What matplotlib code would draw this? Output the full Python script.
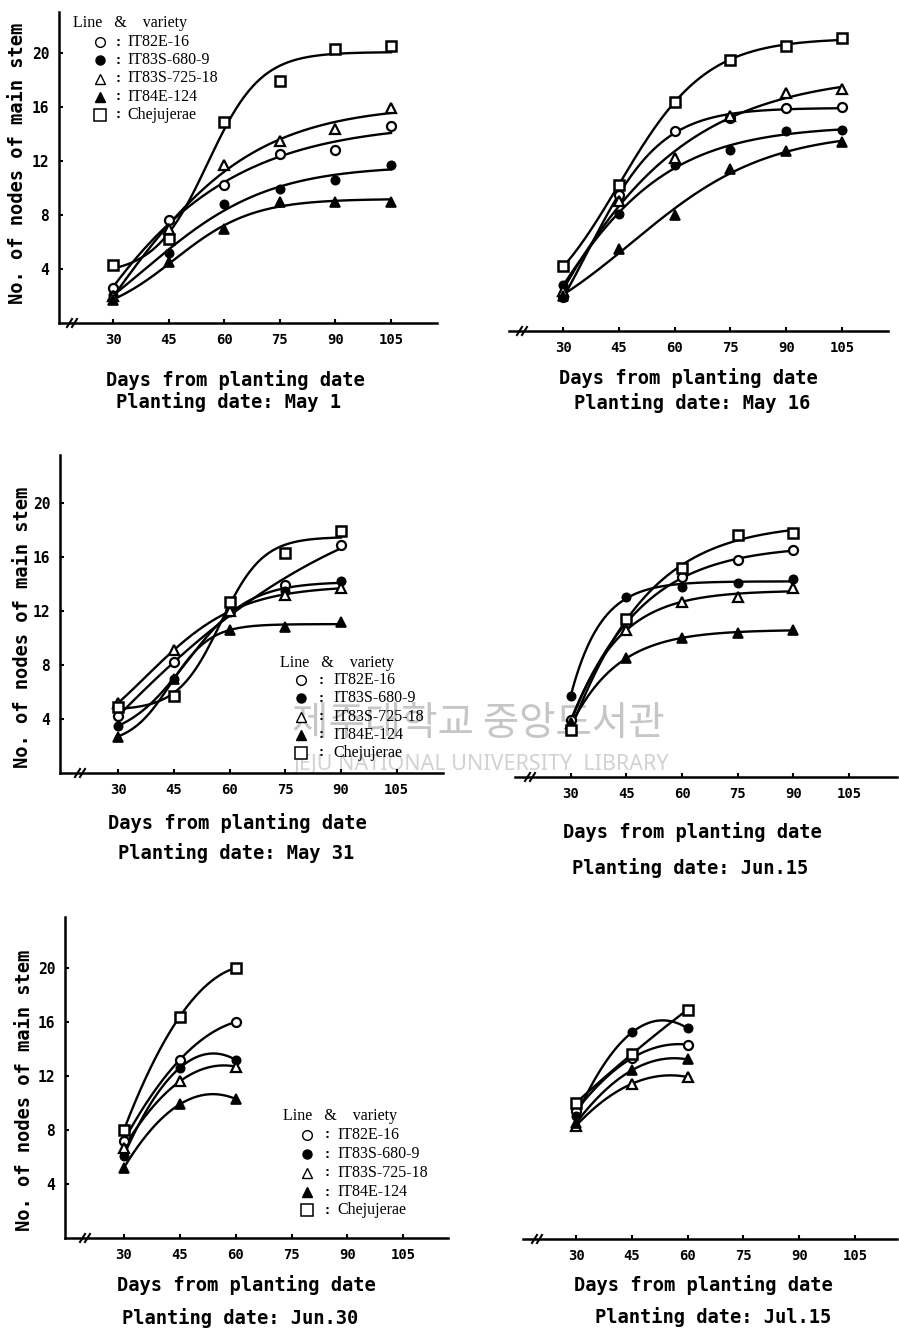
import numpy as np
import matplotlib.pyplot as plt
from matplotlib.lines import Line2D

W, H = 899, 1341

plt.rcParams['font.family'] = 'DejaVu Sans Mono'
plt.rcParams['font.weight'] = 'bold'

varieties = ['IT82E-16', 'IT83S-680-9', 'IT83S-725-18', 'IT84E-124', 'Chejujerae']

days6 = [30, 45, 60, 75, 90, 105]
days5 = [30, 45, 60, 75, 90]
days3 = [30, 45, 60]
day_ticks = [30, 45, 60, 75, 90, 105]
node_ticks = [4, 8, 12, 16, 20]

# No. of nodes of main stem, rows in the order of `varieties`
may1 = [[2.6, 7.6, 10.2, 12.5, 12.8, 14.6],
        [2.1, 5.2, 8.8, 9.9, 10.6, 11.7],
        [2.0, 7.0, 11.7, 13.5, 14.4, 15.9],
        [1.7, 4.5, 7.0, 9.0, 9.0, 9.0],
        [4.3, 6.2, 14.9, 17.9, 20.3, 20.5]]
may16 = [[2.5, 10.1, 14.8, 15.8, 16.5, 16.6],
         [3.4, 8.7, 12.3, 13.4, 14.8, 14.9],
         [3.0, 9.6, 12.8, 15.9, 17.6, 17.9],
         [2.6, 6.1, 8.6, 12.0, 13.3, 14.0],
         [4.8, 10.8, 17.0, 20.1, 21.1, 21.7]]
may31 = [[4.2, 8.2, 12.0, 13.9, 16.9],
         [3.5, 7.0, 11.9, 13.5, 14.2],
         [5.2, 9.1, 12.0, 13.2, 13.7],
         [2.7, 7.0, 10.6, 10.8, 11.2],
         [4.9, 5.7, 12.7, 16.3, 17.9]]
jun15 = [[4.2, 11.4, 14.8, 16.1, 16.8],
         [6.0, 13.3, 14.1, 14.4, 14.7],
         [4.0, 10.9, 13.0, 13.3, 14.0],
         [3.8, 8.8, 10.3, 10.7, 10.9],
         [3.5, 11.7, 15.5, 17.9, 18.1]]
jun30 = [[7.2, 13.2, 16.0],
         [6.1, 12.6, 13.2],
         [6.7, 11.6, 12.7],
         [5.2, 9.9, 10.3],
         [8.0, 16.4, 20.0]]
jul15 = [[9.5, 13.4, 14.4],
         [9.1, 15.3, 15.6],
         [8.4, 11.5, 12.0],
         [8.6, 12.5, 13.3],
         [10.1, 13.7, 17.0]]

styles = [dict(marker='o', mfc='white', mec='black', ms=6.5, mew=1.6),
          dict(marker='o', mfc='black', mec='black', ms=6, mew=1.2),
          dict(marker='^', mfc='white', mec='black', ms=7, mew=1.6),
          dict(marker='^', mfc='black', mec='black', ms=7, mew=1.2),
          dict(marker='s', mfc='white', mec='black', ms=6.5, mew=1.8)]
key_styles = [dict(marker='o', mfc='white', mec='black', ms=7, mew=1.0),
              dict(marker='o', mfc='black', mec='black', ms=6.5, mew=1.0),
              dict(marker='^', mfc='white', mec='black', ms=7.5, mew=1.0),
              dict(marker='^', mfc='black', mec='black', ms=7.5, mew=1.0),
              dict(marker='s', mfc='white', mec='black', ms=8, mew=1.1)]

panels = [
    dict(data=may1, days=days6, date='May 1', left=59, right=437, base=323, top=12,
         xlim=(15.4, 117.4), yaxis=True, brk=72, ylab=(18, 163),
         xlab=(235, 380), sub=(229, 402), key=(73, 23, 100, 118, 127, [42, 60, 78.5, 97, 115])),
    dict(data=may16, days=days6, date='May 16', left=509, right=888, base=331, top=20,
         xlim=(15.4, 117.4), yaxis=False, brk=522, ylab=None,
         xlab=(688, 378), sub=(692, 403), key=None),
    dict(data=may31, days=days5, date='May 31', left=60, right=443, base=773, top=455,
         xlim=(14.3, 117.5), yaxis=True, brk=80, ylab=(23, 627),
         xlab=(237, 823), sub=(236, 853), key=(280, 663, 301, 321, 333, [680, 698.5, 717, 735, 753])),
    dict(data=jun15, days=days5, date='Jun.15', left=515, right=897, base=777, top=459,
         xlim=(15.0, 117.9), yaxis=False, brk=530, ylab=None,
         xlab=(692, 832), sub=(690, 868), key=None),
    dict(data=jun30, days=days3, date='Jun.30', left=65, right=448, base=1238, top=917,
         xlim=(14.2, 117.0), yaxis=True, brk=85, ylab=(25, 1090),
         xlab=(246, 1285), sub=(240, 1318), key=(283, 1116, 307, 327, 337, [1135, 1154, 1173, 1192, 1210])),
    dict(data=jul15, days=days3, date='Jul.15', left=523, right=897, base=1239, top=918,
         xlim=(15.7, 116.3), yaxis=False, brk=537, ylab=None,
         xlab=(703, 1285), sub=(713, 1317), key=None),
]


def fx(x):
    return x / W


def fy(y):
    return 1 - y / H


def growth_curve(x, y, num=200):
    """Fitted growth curve: quadratic for three dates, logistic otherwise."""
    x = np.asarray(x, float)
    y = np.asarray(y, float)
    xs = np.linspace(x[0], x[-1], num)
    if len(x) <= 3:
        return xs, np.polyval(np.polyfit(x, y, 2), xs)
    best = None
    for rate in np.linspace(0.02, 0.4, 77):
        for mid in np.linspace(0, 110, 221):
            s = 1 / (1 + np.exp(-rate * (x - mid)))
            if np.ptp(s) < 0.05:
                continue
            A = np.column_stack([np.ones_like(s), s])
            coef, *_ = np.linalg.lstsq(A, y, rcond=None)
            err = np.sum((A @ coef - y) ** 2)
            if best is None or err < best[0]:
                best = (err, rate, mid, coef)
    _, rate, mid, coef = best
    return xs, coef[0] + coef[1] / (1 + np.exp(-rate * (xs - mid)))


fig = plt.figure(figsize=(W / 100, H / 100), dpi=100)

# faint library stamp behind the middle row
fig.text(fx(478), fy(724), '제주대학교 중앙도서관', family=['Noto Sans CJK KR', 'DejaVu Sans'],
         fontsize=28.5, fontweight='normal', color='#c6c6c6', ha='center', va='center', zorder=-1)
fig.text(fx(481), fy(764), 'JEJU NATIONAL UNIVERSITY  LIBRARY', family='Noto Sans',
         fontsize=15.5, fontweight='normal', color='#d2d2d2', ha='center', va='center', zorder=-1)

for p in panels:
    ax = fig.add_axes([fx(p['left']), fy(p['base']), (p['right'] - p['left']) / W,
                       (p['base'] - p['top']) / H])
    ax.set_facecolor('none')
    ax.set_xlim(*p['xlim'])
    ax.set_ylim(0, (p['base'] - p['top']) / 13.5)

    for vals, st in zip(p['data'], styles):
        xs, ys = growth_curve(p['days'], vals)
        ax.plot(xs, ys, color='black', lw=1.7, zorder=2)
        ax.plot(p['days'], vals, ls='none', zorder=3, clip_on=False, **st)

    for side in ['top', 'right']:
        ax.spines[side].set_visible(False)
    ax.spines['bottom'].set_linewidth(1.8)
    ax.set_xticks(day_ticks)
    ax.set_xticklabels([str(d) for d in day_ticks])
    ax.tick_params(axis='x', direction='in', length=3, width=1.5, pad=7, labelsize=10)
    if p['yaxis']:
        ax.spines['left'].set_linewidth(1.8)
        ax.set_yticks(node_ticks)
        ax.tick_params(axis='y', direction='in', length=3, width=1.5, pad=7, labelsize=10.5)
    else:
        ax.spines['left'].set_visible(False)
        ax.set_yticks([])

    # axis break on the day axis
    bx, by = p['brk'], p['base']
    for off in (-2.5, 2.5):
        fig.add_artist(Line2D([fx(bx + off - 2.5), fx(bx + off + 2.5)], [fy(by + 4), fy(by - 4)],
                              color='black', lw=1.5))

    if p['ylab']:
        fig.text(fx(p['ylab'][0]), fy(p['ylab'][1]), 'No. of nodes of main stem',
                 rotation=90, ha='center', va='center', fontsize=13.5)
    fig.text(fx(p['xlab'][0]), fy(p['xlab'][1]), 'Days from planting date',
             ha='center', va='center', fontsize=13.5)
    fig.text(fx(p['sub'][0]), fy(p['sub'][1]), 'Planting date: ' + p['date'],
             ha='center', va='center', fontsize=13.5)

    if p['key']:
        tx, ty, mx, cx, nx, rows = p['key']
        fig.text(fx(tx), fy(ty), 'Line   &    variety', family='Liberation Serif',
                 fontweight='normal', fontsize=11.5, ha='left', va='center')
        for name, ks, ry in zip(varieties, key_styles, rows):
            fig.add_artist(Line2D([fx(mx)], [fy(ry)], ls='none', **ks))
            fig.text(fx(cx), fy(ry), ':', family='Liberation Serif', fontweight='bold',
                     fontsize=11, ha='center', va='center')
            fig.text(fx(nx), fy(ry), name, family='Liberation Serif', fontweight='normal',
                     fontsize=11.5, ha='left', va='center')

fig.savefig('out.png', dpi=100)
